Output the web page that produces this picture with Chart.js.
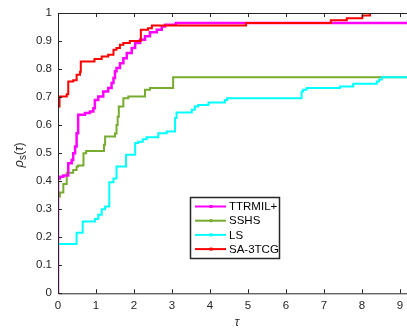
<!DOCTYPE html>
<html>
<head>
<meta charset="utf-8">
<script src="https://cdn.jsdelivr.net/npm/chart.js@4.4.1/dist/chart.umd.min.js"></script>
<style>
  html, body { margin: 0; padding: 0; background: #fff; overflow: hidden; }
  #wrap { width: 407px; height: 329px; overflow: hidden; }
</style>
</head>
<body>
<div id="wrap"><canvas id="c" width="420" height="329"></canvas></div>
<script>
// ── Data ──────────────────────────────────────────────────────────────────
const X_MAX = 9.25;
const xTicks = [0, 1, 2, 3, 4, 5, 6, 7, 8, 9];
const yTicks = [0, 0.1, 0.2, 0.3, 0.4, 0.5, 0.6, 0.7, 0.8, 0.9, 1];

const seriesNames = ['TTRMIL+', 'SSHS', 'LS', 'SA-3TCG'];

const ttrmilX = [0, 0, 0.05, 0.14, 0.27, 0.36, 0.4, 0.45, 0.49, 0.53, 0.71, 0.84, 0.93, 0.97, 1.06, 1.19, 1.32, 1.41, 1.46, 1.5, 1.54, 1.63, 1.72, 1.81, 1.94, 2.03, 2.16, 2.29, 2.42, 2.6, 2.73, 2.82, 3.1, X_MAX];
const ttrmilY = [0, 0.41, 0.416, 0.42, 0.464, 0.476, 0.5, 0.524, 0.571, 0.637, 0.643, 0.649, 0.66, 0.69, 0.702, 0.72, 0.732, 0.75, 0.768, 0.792, 0.804, 0.821, 0.839, 0.857, 0.875, 0.893, 0.905, 0.917, 0.931, 0.94, 0.952, 0.958, 0.964, 0.964];

const sshsX = [0, 0, 0.05, 0.14, 0.23, 0.4, 0.49, 0.53, 0.67, 0.74, 1.21, 1.24, 1.5, 1.54, 1.57, 1.6, 1.72, 1.85, 2.29, 2.42, 3.03, X_MAX];
const sshsY = [0, 0.345, 0.36, 0.39, 0.43, 0.44, 0.452, 0.456, 0.5, 0.508, 0.53, 0.559, 0.57, 0.6, 0.63, 0.666, 0.696, 0.702, 0.726, 0.732, 0.771, 0.771];

const lsX = [0, 0, 0.49, 0.65, 0.97, 1.06, 1.15, 1.24, 1.35, 1.46, 1.54, 1.79, 2.03, 2.11, 2.23, 2.33, 2.64, 2.86, 3.08, 3.12, 3.52, 3.6, 3.69, 3.96, 4.39, 4.45, 6.41, 6.45, 6.54, 7.42, 7.77, 8.39, 8.45, 8.52, X_MAX];
const lsY = [0, 0.176, 0.216, 0.256, 0.265, 0.28, 0.3, 0.31, 0.396, 0.41, 0.452, 0.494, 0.536, 0.541, 0.55, 0.557, 0.571, 0.577, 0.625, 0.645, 0.655, 0.666, 0.672, 0.681, 0.69, 0.696, 0.72, 0.726, 0.732, 0.738, 0.748, 0.756, 0.763, 0.771, 0.771];

const sa3tcgX = [0, 0, 0.04, 0.23, 0.27, 0.4, 0.49, 0.58, 0.6, 0.96, 1.15, 1.32, 1.46, 1.54, 1.63, 1.72, 1.89, 2.18, 2.37, 2.47, 4.95, 7.18, 7.6, 8.01, 8.21, X_MAX];
const sa3tcgY = [0, 0.666, 0.702, 0.71, 0.756, 0.76, 0.78, 0.79, 0.827, 0.836, 0.845, 0.851, 0.869, 0.875, 0.887, 0.893, 0.90, 0.94, 0.946, 0.955, 0.964, 0.974, 0.981, 0.991, 1.0, 1.0];

const X_LABEL = 'τ';
const Y_LABEL = ['ρ', 's', '(', 'τ', ')'];

// ── Style ─────────────────────────────────────────────────────────────────
const _AXIS = '#262626';
const _FONT = '"Liberation Sans", Arial, sans-serif';
const _COLORS = ['#ff00ff', '#77ac30', '#00ffff', '#ff0000'];

const _pts = (xs, ys) => xs.map((x, i) => ({ x, y: ys[i] }));

function _ds(i, xs, ys, width, order) {
  return {
    label: seriesNames[i],
    data: _pts(xs, ys),
    borderColor: _COLORS[i],
    backgroundColor: _COLORS[i],
    borderWidth: width,
    stepped: 'before',   // hold previous value, then jump at the new x
    pointRadius: 0,
    fill: false,
    order,
  };
}

// ── Box, inward ticks, labels, legend ─────────────────────────────────────
const matlabFrame = {
  id: 'matlabFrame',
  afterDatasetsDraw(chart) {
    const { ctx, chartArea: a, scales: { x, y } } = chart;
    ctx.save();
    ctx.strokeStyle = _AXIS;
    ctx.lineWidth = 1;
    ctx.beginPath();
    ctx.moveTo(a.right, a.top + 0.5); ctx.lineTo(a.left + 0.5, a.top + 0.5);
    ctx.lineTo(a.left + 0.5, a.bottom + 0.5); ctx.lineTo(a.right, a.bottom + 0.5);
    xTicks.forEach(t => {
      const px = Math.round(x.getPixelForValue(t)) + 0.5;
      ctx.moveTo(px, a.bottom); ctx.lineTo(px, a.bottom - 4);
      ctx.moveTo(px, a.top); ctx.lineTo(px, a.top + 4);
    });
    yTicks.forEach(t => {
      const py = Math.round(y.getPixelForValue(t)) + 0.5;
      ctx.moveTo(a.left, py); ctx.lineTo(a.left + 4, py);
    });
    ctx.stroke();

    // x label
    ctx.fillStyle = _AXIS;
    ctx.font = `italic 12px ${_FONT}`;
    ctx.textAlign = 'center';
    ctx.textBaseline = 'middle';
    ctx.fillText(X_LABEL, 237, 323);

    // y label, rotated: ρ_s(τ)
    ctx.save();
    ctx.translate(19, 155);
    ctx.rotate(-Math.PI / 2);
    ctx.textAlign = 'left';
    ctx.textBaseline = 'alphabetic';
    const parts = [
      { t: Y_LABEL[0], f: `italic 13px ${_FONT}`, dy: 0 },
      { t: Y_LABEL[1], f: `10px ${_FONT}`, dy: 3 },
      { t: Y_LABEL[2], f: `12px ${_FONT}`, dy: 0 },
      { t: Y_LABEL[3], f: `italic 12px ${_FONT}`, dy: 0 },
      { t: Y_LABEL[4], f: `12px ${_FONT}`, dy: 0 },
    ];
    let total = 0;
    parts.forEach(p => { ctx.font = p.f; p.w = ctx.measureText(p.t).width; total += p.w; });
    let cx = -total / 2;
    parts.forEach(p => { ctx.font = p.f; ctx.fillText(p.t, cx, 4 + p.dy); cx += p.w; });
    ctx.restore();

    // legend
    const lx = 190.5, ly = 197.5, lw = 89, lh = 61;
    ctx.fillStyle = '#fff';
    ctx.fillRect(lx, ly, lw, lh);
    ctx.strokeStyle = _AXIS;
    ctx.lineWidth = 1.5;
    ctx.strokeRect(lx, ly, lw, lh);
    ctx.font = `11.5px ${_FONT}`;
    ctx.textAlign = 'left';
    ctx.textBaseline = 'middle';
    seriesNames.forEach((name, i) => {
      const yy = 206.5 + i * 14.2;
      ctx.strokeStyle = _COLORS[i];
      ctx.lineWidth = 2;
      ctx.beginPath(); ctx.moveTo(195, yy); ctx.lineTo(226, yy); ctx.stroke();
      ctx.fillStyle = _COLORS[i];
      ctx.fillRect(209.5, yy - 1.5, 3, 3);
      ctx.fillStyle = '#000';
      ctx.fillText(name, 229, yy + 0.5);
    });
    ctx.restore();
  },
};

// ── Chart ─────────────────────────────────────────────────────────────────
new Chart(document.getElementById('c').getContext('2d'), {
  type: 'line',
  data: {
    datasets: [
      _ds(0, ttrmilX, ttrmilY, 2.5, 2),
      _ds(1, sshsX, sshsY, 2, 3),
      _ds(2, lsX, lsY, 2, 1),
      _ds(3, sa3tcgX, sa3tcgY, 2, 0),
    ],
  },
  options: {
    responsive: false,
    animation: false,
    devicePixelRatio: 1,
    layout: { padding: { top: 13, right: 420 - (58 + X_MAX * 38), left: 0, bottom: 0 } },
    plugins: { legend: { display: false }, tooltip: { enabled: false } },
    scales: {
      x: {
        type: 'linear', min: 0, max: X_MAX,
        afterFit: s => { s.height = 35.7; },
        afterBuildTicks: s => { s.ticks = xTicks.map(v => ({ value: v })); },
        grid: { display: false, drawTicks: false },
        border: { display: false },
        ticks: { color: _AXIS, font: { family: _FONT, size: 11.5 }, padding: 6, maxRotation: 0,
                 callback: v => String(v) },
      },
      y: {
        type: 'linear', min: 0, max: 1,
        afterFit: s => { s.width = 58; },
        afterBuildTicks: s => { s.ticks = yTicks.map(v => ({ value: v })); },
        grid: { display: false, drawTicks: false },
        border: { display: false },
        ticks: { color: _AXIS, font: { family: _FONT, size: 11.5 }, padding: 6,
                 callback: v => String(+v.toFixed(1)) },
      },
    },
  },
  plugins: [matlabFrame],
});
</script>
</body>
</html>
